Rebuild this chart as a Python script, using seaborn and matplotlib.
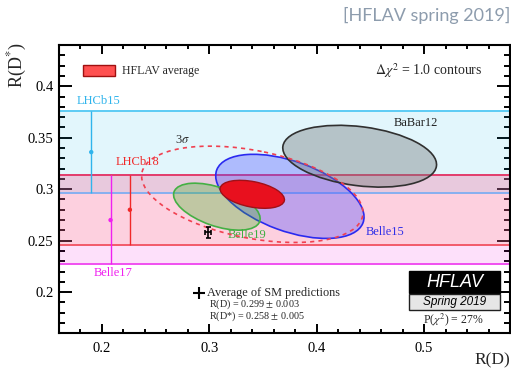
import numpy as np
import matplotlib
matplotlib.use("Agg")
import matplotlib.pyplot as plt
from matplotlib.patches import Ellipse, Rectangle
from matplotlib.ticker import MultipleLocator
import seaborn as sns

# ---- R(D)/R(D*) measurements (value, stat, syst, correlation) ----
ell_names = ["BaBar12", "Belle15", "Belle19"]
ell_rd = [0.440, 0.375, 0.307]
ell_rd_stat = [0.058, 0.064, 0.037]
ell_rd_syst = [0.042, 0.026, 0.016]
ell_rds = [0.332, 0.293, 0.283]
ell_rds_stat = [0.024, 0.038, 0.018]
ell_rds_syst = [0.018, 0.015, 0.014]
ell_corr = [-0.27, -0.49, -0.51]

# ---- HFLAV average ----
avg_rd, avg_rd_stat, avg_rd_syst = 0.340, 0.027, 0.013
avg_rds, avg_rds_stat, avg_rds_syst = 0.295, 0.011, 0.008
avg_corr = -0.38
chi2_prob = 27

# ---- R(D*)-only measurements (bands) ----
band_names = ["LHCb15", "Belle17", "LHCb18"]
band_rds = [0.336, 0.270, 0.280]
band_err_up = [0.040, 0.044, 0.034]
band_err_dn = [0.040, 0.043, 0.034]

# ---- SM prediction ----
sm_rd, sm_rd_err = 0.299, 0.003
sm_rds, sm_rds_err = 0.258, 0.005

# ---- styling ----
band_fill = [(0.0, 0.70, 0.93), (0.95, 0.0, 0.85), (1.0, 0.57, 0.46)]
band_alpha = [0.114, 0.122, 0.20]
band_line_hi = ["#5ccbf4", "#f050f0", "#e2406c"]
band_line_lo = ["#86b0f0", "#f050f0", "#f25a6a"]
band_text = ["#2fb4ec", "#f020f0", "#f02828"]
band_bar_x = [0.190, 0.208, 0.226]
band_label_xy = [(0.1966, 0.3857), (0.210, 0.2185), (0.2328, 0.3267)]

ell_face = [(0.45, 0.47, 0.48), (0.30, 0.30, 1.0), (0.20, 0.70, 0.10)]
ell_alpha = [0.40, 0.35, 0.30]
ell_edge = ["#303030", "#2a2af0", "#44b044"]
ell_text = ["#202020", "#3030e8", "#40b040"]
ell_label_xy = [(0.492, 0.364), (0.4636, 0.2588), (0.335, 0.2552)]

sns.set_theme(style="ticks")
plt.rcParams["font.family"] = ["Liberation Serif", "DejaVu Serif"]
plt.rcParams["mathtext.fontset"] = "stix"

fig = plt.figure(figsize=(5.11, 3.69), dpi=100)
ax = fig.add_axes([0.1155, 0.0967, 0.8825, 0.7813])
ax.set_xlim(0.16, 0.58)
ax.set_ylim(0.16, 0.44)


def cov_ellipse(x, y, sx, sy, rho, dchi2=1.0, **kw):
    cov = np.array([[sx * sx, rho * sx * sy], [rho * sx * sy, sy * sy]])
    vals, vecs = np.linalg.eigh(cov)
    big = vecs[:, 1]
    angle = np.degrees(np.arctan2(big[1], big[0]))
    w = 2 * np.sqrt(vals[1] * dchi2)
    h = 2 * np.sqrt(vals[0] * dchi2)
    return Ellipse((x, y), w, h, angle=angle, **kw)


# bands
for i, name in enumerate(band_names):
    lo = band_rds[i] - band_err_dn[i]
    hi = band_rds[i] + band_err_up[i]
    ax.axhspan(lo, hi, color=band_fill[i], alpha=band_alpha[i], lw=0, zorder=1)
    ax.axhline(hi, color=band_line_hi[i], lw=1.4, zorder=2)
    ax.axhline(lo, color=band_line_lo[i], lw=1.4, zorder=2)
    ax.vlines(band_bar_x[i], lo, hi, color=band_text[i], lw=1.0, zorder=3)
    ax.text(*band_label_xy[i], name, color=band_text[i], fontsize=9,
            ha="center", va="center", zorder=6)

sns.scatterplot(x=band_bar_x, y=band_rds, hue=band_names,
                palette=dict(zip(band_names, band_text)), s=10,
                edgecolor="none", legend=False, ax=ax, zorder=4)

# measurement ellipses (drawn back to front: Belle15, Belle19, BaBar12)
for i in [1, 2, 0]:
    sx = np.hypot(ell_rd_stat[i], ell_rd_syst[i])
    sy = np.hypot(ell_rds_stat[i], ell_rds_syst[i])
    ax.add_patch(cov_ellipse(ell_rd[i], ell_rds[i], sx, sy, ell_corr[i],
                             facecolor=(*ell_face[i], ell_alpha[i]),
                             edgecolor=ell_edge[i], lw=1.2, zorder=5))
    ax.text(*ell_label_xy[i], ell_names[i], color=ell_text[i], fontsize=9,
            ha="center", va="center", zorder=6)

# average: 1 sigma filled, 3 sigma dashed
asx = np.hypot(avg_rd_stat, avg_rd_syst)
asy = np.hypot(avg_rds_stat, avg_rds_syst)
ax.add_patch(cov_ellipse(avg_rd, avg_rds, asx, asy, avg_corr,
                         facecolor="#e8101e", edgecolor="#a01018", lw=1.0,
                         zorder=7))
ax.add_patch(cov_ellipse(avg_rd, avg_rds, asx, asy, avg_corr, dchi2=11.83,
                         facecolor="none", edgecolor="#f04050", lw=1.2,
                         linestyle=(0, (2.5, 2.5)), zorder=7))
ax.text(0.275, 0.3475, r"3$\sigma$", color="#303030", fontsize=9,
        ha="center", va="center", zorder=8)

# SM prediction
ax.errorbar(sm_rd, sm_rds, xerr=sm_rd_err, yerr=sm_rds_err, fmt="none",
            ecolor="black", elinewidth=1.2, capsize=1.8, capthick=1.2, zorder=8)

# legend and annotations
ax.add_patch(Rectangle((0.0525, 0.8925), 0.0716, 0.037, transform=ax.transAxes,
                       facecolor="#ff5050", edgecolor="#a01010", lw=1.0, zorder=9))
ax.text(0.139, 0.911, "HFLAV average", transform=ax.transAxes, fontsize=8.5,
        ha="left", va="center", zorder=9)
ax.text(0.938, 0.913, r"$\Delta\chi^2$ = 1.0 contours", transform=ax.transAxes,
        fontsize=10, ha="right", va="center", zorder=9)

ax.plot([0.311], [0.141], marker="+", markersize=9, mew=1.5, color="black",
        transform=ax.transAxes, zorder=9)
ax.text(0.3275, 0.141, "Average of SM predictions", transform=ax.transAxes,
        fontsize=8.8, ha="left", va="center", zorder=9)
ax.text(0.333, 0.100, f"R(D) = {sm_rd:.3f} $\\pm$ {sm_rd_err:.3f}",
        transform=ax.transAxes, fontsize=7.3, ha="left", va="center", zorder=9)
ax.text(0.333, 0.058, f"R(D*) = {sm_rds:.3f} $\\pm$ {sm_rds_err:.3f}",
        transform=ax.transAxes, fontsize=7.3, ha="left", va="center", zorder=9)

# HFLAV logo
ax.add_patch(Rectangle((0.7767, 0.1387), 0.2013, 0.0773, transform=ax.transAxes,
                       facecolor="black", edgecolor="black", lw=1.0, zorder=9))
ax.text(0.877, 0.178, "HFLAV", transform=ax.transAxes, color="white",
        fontsize=13, style="italic", family="Liberation Sans",
        ha="center", va="center", zorder=10)
ax.add_patch(Rectangle((0.7767, 0.081), 0.2013, 0.054, transform=ax.transAxes,
                       facecolor="#e6e6e6", edgecolor="#202020", lw=1.0, zorder=9))
ax.text(0.877, 0.1086, "Spring 2019", transform=ax.transAxes, color="black",
        fontsize=8.5, style="italic", family="Liberation Sans",
        ha="center", va="center", zorder=10)
ax.text(0.8736, 0.046, f"P($\\chi^2$) = {chi2_prob}%", transform=ax.transAxes,
        fontsize=8.5, ha="center", va="center", zorder=10)

# axes style
ax.xaxis.set_minor_locator(MultipleLocator(0.02))
ax.yaxis.set_minor_locator(MultipleLocator(0.01))
ax.set_xticks([0.2, 0.3, 0.4, 0.5])
ax.set_xticklabels(["0.2", "0.3", "0.4", "0.5"])
ax.set_yticks([0.2, 0.25, 0.3, 0.35, 0.4])
ax.set_yticklabels(["0.2", "0.25", "0.3", "0.35", "0.4"])
ax.tick_params(which="both", direction="in", top=True, right=True,
               width=1.4, colors="black", labelsize=10.5)
ax.tick_params(axis="x", which="major", length=6.5, pad=6)
ax.tick_params(axis="x", which="minor", length=3.2)
ax.tick_params(axis="y", which="major", length=9.4, pad=4)
ax.tick_params(axis="y", which="minor", length=4.3)
for sp in ax.spines.values():
    sp.set_linewidth(1.5)
    sp.set_color("black")
    sp.set_zorder(11)

# axis titles, ROOT-style: at the far ends of the axes
fig.text(0.998, 0.022, "R(D)", fontsize=12.5, ha="right", va="center")
fig.text(0.035, 0.886, r"R(D$^{*}$)", fontsize=13, rotation=90,
         ha="center", va="top")

fig.text(0.998, 0.959, "[HFLAV spring 2019]", color="#8d9cad",
         family="Lato", fontsize=13, ha="right", va="center")

fig.savefig("out.png", dpi=100)
